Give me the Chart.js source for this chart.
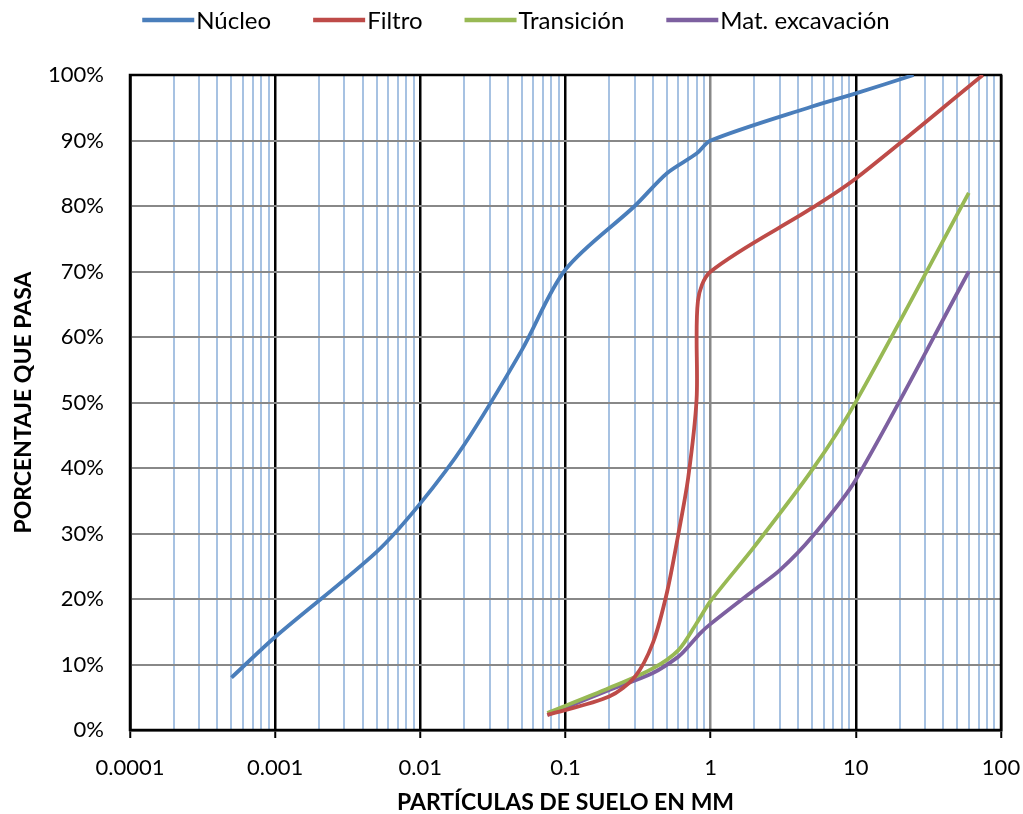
<!DOCTYPE html>
<html>
<head>
<meta charset="utf-8">
<script src="https://cdn.jsdelivr.net/npm/chart.js@4"></script>
<style>
  html, body { margin: 0; padding: 0; background: #fff; }
  #wrap { width: 1023px; height: 814px; }
</style>
</head>
<body>
<div id="wrap"><canvas id="myChart"></canvas></div>
<script>
let seriesNames = ['Núcleo', 'Filtro', 'Transición', 'Mat. excavación'];
let seriesColors = ['#4a7ebb', '#be4b48', '#98b954', '#7d60a0'];

// tamaño de partícula (mm) y porcentaje que pasa
let nucleoX = [0.0005, 0.001, 0.005, 0.01, 0.02, 0.05, 0.1, 0.3, 0.5, 0.8, 1, 5, 10, 25];
let nucleoY = [8, 14.2, 27.2, 34.6, 43.5, 58, 70.3, 80, 85, 88, 90, 95.2, 97.2, 100];

let filtroX = [0.075, 0.2, 0.3, 0.4, 0.5, 0.6, 0.7, 0.8, 0.817, 1, 5, 10, 75];
let filtroY = [2.3, 5.1, 8.1, 13.3, 21, 30, 38.5, 50.5, 65.5, 70, 79.7, 84.2, 100];

let transX = [0.075, 0.2, 0.4, 0.6, 0.8, 1, 2, 5, 10, 60];
let transY = [2.6, 6.4, 9.4, 12.2, 16.3, 19.7, 28, 39.7, 50.1, 82];

let excavX = [0.075, 0.2, 0.4, 0.6, 0.7, 0.85, 1, 2, 3, 5, 10, 60];
let excavY = [2.3, 6.1, 8.7, 11.2, 12.7, 14.8, 16.2, 21.4, 24.4, 29.5, 38.2, 70];

let xTickLabels = ['0.0001', '0.001', '0.01', '0.1', '1', '10', '100'];
let xMin = 0.0001, xMax = 100;

const toPoints = (xs, ys) => xs.map((x, i) => ({ x: x, y: ys[i] }));
const isDecade = (v) => Math.abs(Math.log10(v) - Math.round(Math.log10(v))) < 1e-6;

const plotBorder = {
  id: 'plotBorder',
  beforeDatasetsDraw(chart) {
    const { ctx, chartArea: a } = chart;
    ctx.save();
    ctx.strokeStyle = '#000';
    ctx.lineWidth = 2.5;
    ctx.strokeRect(a.left, a.top, a.right - a.left, a.bottom - a.top);
    ctx.restore();
  }
};

const lineLegend = {
  id: 'lineLegend',
  afterDraw(chart) {
    const c = chart.ctx;
    c.save();
    c.font = '24px Lato';
    c.textBaseline = 'middle';
    const sample = 52, gap = 2, space = 42, y = 20;
    const widths = seriesNames.map(n => c.measureText(n).width);
    const total = widths.reduce((s, w) => s + sample + gap + w, 0) + space * (seriesNames.length - 1);
    let x = 516 - total / 2;
    seriesNames.forEach((n, i) => {
      c.strokeStyle = seriesColors[i];
      c.lineWidth = 4.5;
      c.beginPath();
      c.moveTo(x, y);
      c.lineTo(x + sample, y);
      c.stroke();
      c.fillStyle = '#000';
      c.fillText(n, x + sample + gap, y + 1);
      x += sample + gap + widths[i] + space;
    });
    c.restore();
  }
};

let ctx = document.getElementById('myChart').getContext('2d');
let datasets = [
  toPoints(nucleoX, nucleoY),
  toPoints(filtroX, filtroY),
  toPoints(transX, transY),
  toPoints(excavX, excavY)
].map((pts, i) => ({
  label: seriesNames[i],
  data: pts,
  borderColor: seriesColors[i],
  backgroundColor: seriesColors[i],
  borderWidth: 3.8,
  pointRadius: 0,
  tension: 0.3
}));

let myChart = new Chart(ctx, {
  type: 'line',
  data: { datasets: datasets },
  options: {
    responsive: true,
    maintainAspectRatio: false,
    animation: false,
    layout: { padding: { top: 75, right: 0, bottom: 0, left: 0 } },
    plugins: {
      legend: { display: false },
      tooltip: { enabled: false }
    },
    scales: {
      x: {
        type: 'logarithmic',
        min: xMin,
        max: xMax,
        afterFit: (scale) => { scale.height = 84; scale.paddingRight = 22; },
        afterBuildTicks: (scale) => {
          let ticks = [];
          for (let e = -4; e <= 2; e++) {
            for (let m = 1; m <= 9; m++) {
              let v = parseFloat((m * Math.pow(10, e)).toPrecision(3));
              if (v <= xMax) ticks.push({ value: v });
            }
          }
          scale.ticks = ticks;
        },
        ticks: {
          autoSkip: false,
          maxRotation: 0,
          padding: 17,
          color: '#000',
          font: { family: 'Lato', size: 22 },
          callback: (v) => isDecade(v) ? xTickLabels[Math.round(Math.log10(v)) + 4] : ''
        },
        grid: {
          color: (c) => {
            let v = c.tick.value;
            if (!isDecade(v)) return '#a7c2e2';
            return Math.round(Math.log10(v)) === 0 ? '#888888' : '#000000';
          },
          lineWidth: (c) => isDecade(c.tick.value) ? 2.5 : 2,
          drawTicks: true,
          tickLength: 8,
          tickColor: (c) => isDecade(c.tick.value) ? '#000000' : 'rgba(0,0,0,0)',
          tickWidth: 2
        },
        border: { color: '#000', width: 2.5 },
        title: {
          display: true,
          text: 'PARTÍCULAS DE SUELO EN MM',
          color: '#000',
          font: { family: 'Lato', size: 23, weight: 'bold', lineHeight: 1 },
          padding: { top: 0, bottom: 0 }
        }
      },
      y: {
        min: 0,
        max: 100,
        afterFit: (scale) => { scale.width = 130; },
        ticks: {
          stepSize: 10,
          padding: 26,
          color: '#000',
          font: { family: 'Lato', size: 22 },
          callback: (v) => v + '%'
        },
        grid: {
          color: '#888888',
          lineWidth: 2,
          drawTicks: false
        },
        border: { color: '#000', width: 2.5 },
        title: {
          display: true,
          text: 'PORCENTAJE QUE PASA',
          color: '#000',
          font: { family: 'Lato', size: 23, weight: 'bold' },
          padding: { top: 10, bottom: 0 }
        }
      }
    }
  },
  plugins: [plotBorder, lineLegend]
});
</script>
</body>
</html>
